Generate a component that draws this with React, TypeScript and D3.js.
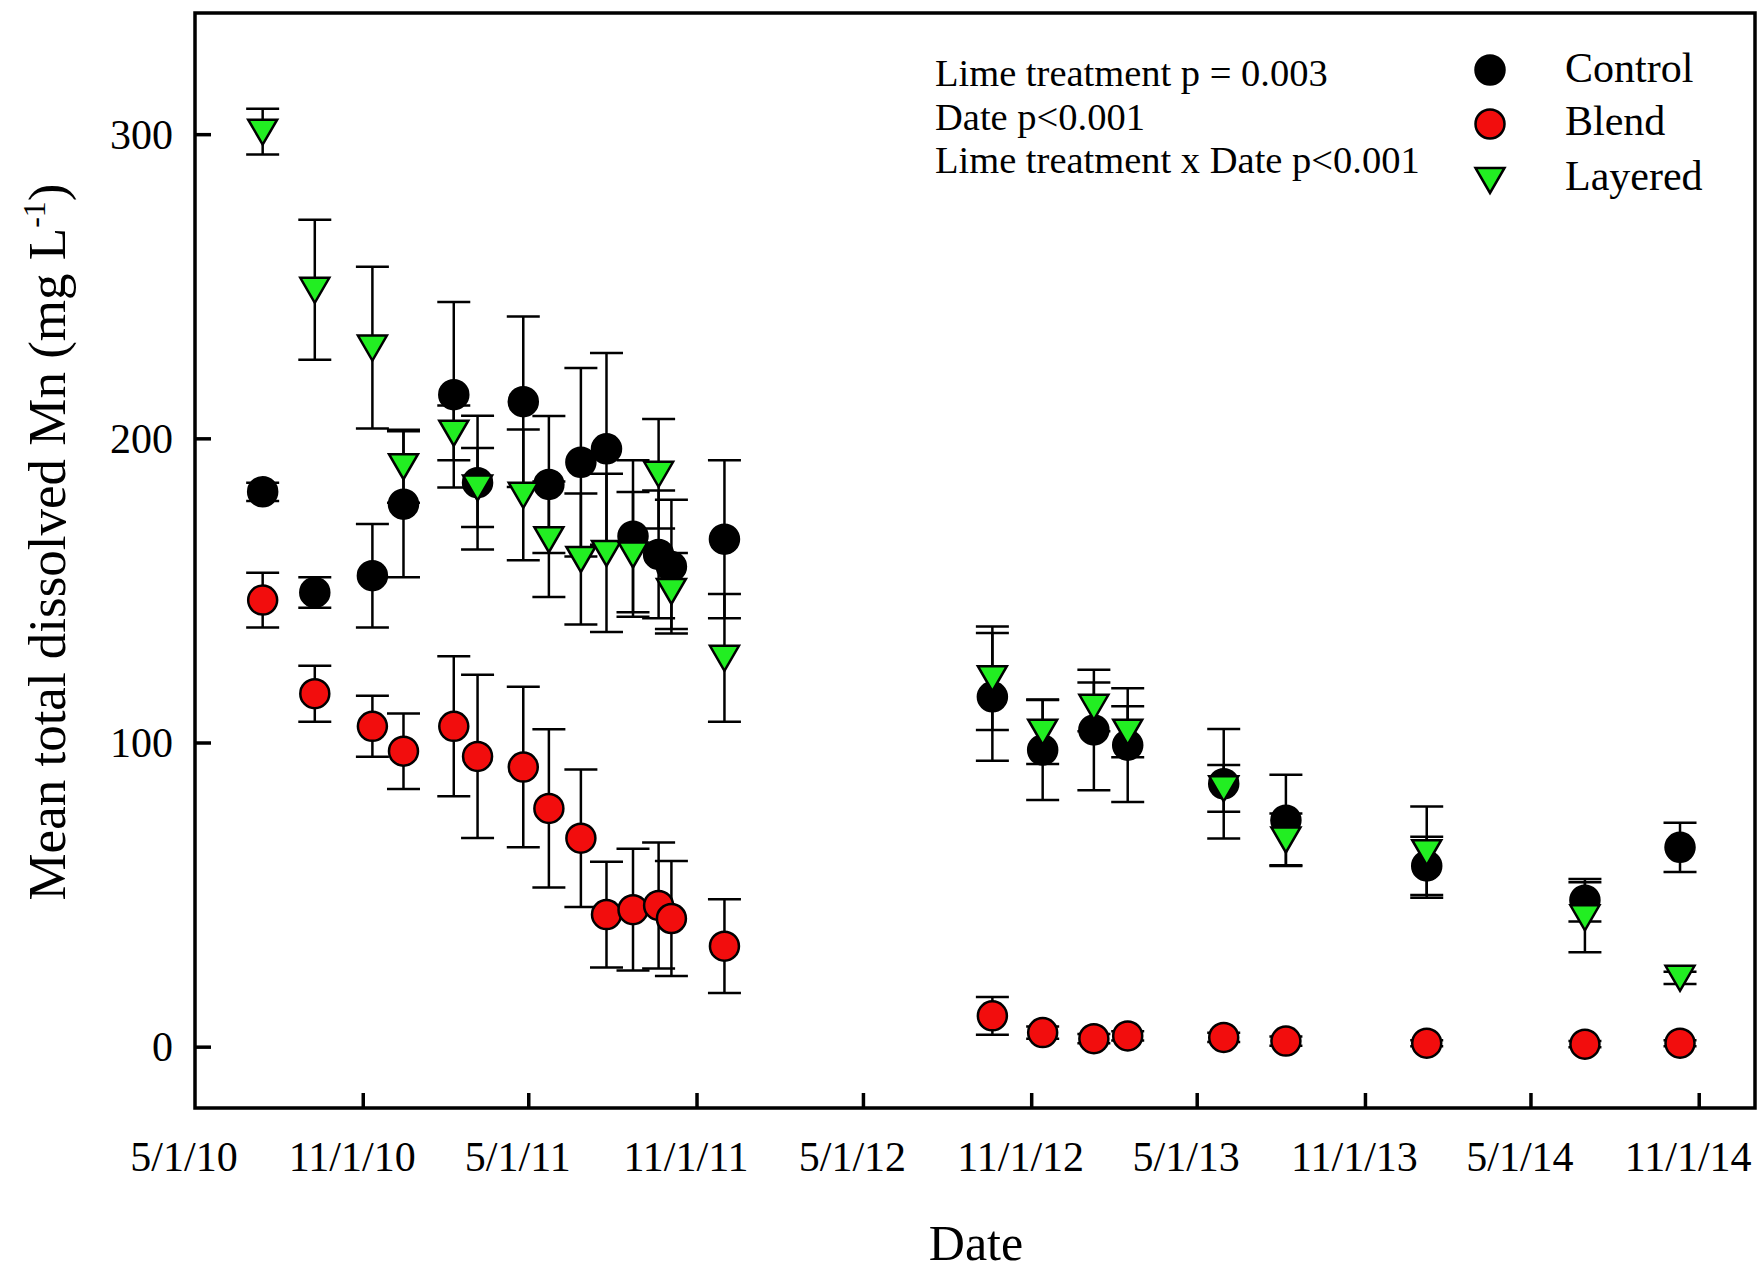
import React from 'react';
import * as d3 from 'd3';

// sampling dates
const dates = [
  '2010-07-14', '2010-09-09', '2010-11-11', '2010-12-15', '2011-02-08', '2011-03-06',
  '2011-04-25', '2011-05-23', '2011-06-27', '2011-07-25', '2011-08-23', '2011-09-20',
  '2011-10-04', '2011-12-01', '2012-09-19', '2012-11-13', '2013-01-08', '2013-02-14',
  '2013-05-30', '2013-08-06', '2014-01-07', '2014-06-29', '2014-10-11',
];

const control = [182.6, 149.5, 155, 178.5, 214.5, 185.6, 212.2, 185, 192.3, 196.7, 168, 162, 158, 167, 115.2, 97.7, 104.3, 99.3, 86.6, 74.6, 59.6, 48.3, 65.7];
const controlErr = [3, 5, 17, 24, 30.5, 22, 28, 22.5, 31, 31.5, 25, 21, 22, 26, 21, 16.4, 19.8, 18.7, 18, 15, 9.6, 7, 8.1];

const blend = [147, 116.2, 105.5, 97.3, 105.5, 95.6, 92.1, 78.5, 68.7, 43.6, 45.2, 46.6, 42.3, 33.2, 10.3, 4.8, 2.8, 3.7, 3.2, 2.0, 1.3, 1.0, 1.3];
const blendErr = [9, 9.2, 10, 12.4, 23, 26.8, 26.4, 26, 22.6, 17.4, 20, 20.7, 18.9, 15.4, 6.2, 2, 1.5, 1.5, 1.5, 1.5, 1, 1, 1];

const layered = [301, 249, 230, 191, 202, 184, 181.6, 167, 160.5, 162.5, 162, 188.5, 150, 128, 121.3, 103.7, 111.9, 103.7, 85.1, 68.3, 64.1, 42.7, 22.8];
const layeredErr = [7.5, 23, 26.6, 12, 9, 13, 21.5, 19, 21.5, 26, 20.5, 18, 12.5, 21, 17, 10.6, 8, 8.4, 7.7, 8.5, 15, 11.5, 2];

const xTickDates = ['2010-05-01', '2010-11-01', '2011-05-01', '2011-11-01', '2012-05-01', '2012-11-01', '2013-05-01', '2013-11-01', '2014-05-01', '2014-11-01'];
const xTickLabels = ['5/1/10', '11/1/10', '5/1/11', '11/1/11', '5/1/12', '11/1/12', '5/1/13', '11/1/13', '5/1/14', '11/1/14'];
const yTicks = [0, 100, 200, 300];

const statLines = ['Lime treatment p = 0.003', 'Date p<0.001', 'Lime treatment x Date p<0.001'];
const legendNames = ['Control', 'Blend', 'Layered'];

const W = 1762;
const H = 1272;
const left = 195, top = 13, right = 1755, bottom = 1108;
const FONT = "'Liberation Serif', 'Times New Roman', serif";

const parse = d3.timeParse('%Y-%m-%d');

const x = d3.scaleTime()
  .domain([parse('2010-05-01')!, parse('2015-01-01')!])
  .range([left, right]);

const y = d3.scaleLinear()
  .domain([-20, 340])
  .range([bottom, top]);

const RED = '#f20d0d';
const GREEN = '#22ee22';

const series = [
  { name: 'Control', values: control, err: controlErr, shape: 'circle', fill: '#000' },
  { name: 'Blend', values: blend, err: blendErr, shape: 'circle', fill: RED },
  { name: 'Layered', values: layered, err: layeredErr, shape: 'triangle', fill: GREEN },
];

const CAP = 16.5;
const R = 14.5;
const triPath = 'M-14.5,-12 L14.5,-12 L0,13 Z';

function Marker({ shape, fill, cx, cy }: { shape: string; fill: string; cx: number; cy: number }) {
  if (shape === 'triangle') {
    return <path d={triPath} transform={`translate(${cx},${cy})`} fill={fill} stroke="#000" strokeWidth={2.5} strokeLinejoin="miter" />;
  }
  return <circle cx={cx} cy={cy} r={R} fill={fill} stroke="#000" strokeWidth={2.5} />;
}

export default function App() {
  const dts = dates.map((d) => parse(d)!);

  return (
    <div style={{ position: 'absolute', left: 0, top: 0 }}>
      <svg width={W} height={H} style={{ display: 'block', background: '#fff' }} fontFamily={FONT}>
        <rect x={0} y={0} width={W} height={H} fill="#fff" />

        {/* data */}
        {series.map((s) => (
          <g key={s.name}>
            {s.values.map((v, i) => {
              const cx = x(dts[i]);
              const y1 = y(v + s.err[i]);
              const y2 = y(v - s.err[i]);
              return (
                <g key={i} stroke="#000" strokeWidth={2.5}>
                  <line x1={cx} x2={cx} y1={y1} y2={y2} />
                  <line x1={cx - CAP} x2={cx + CAP} y1={y1} y2={y1} />
                  <line x1={cx - CAP} x2={cx + CAP} y1={y2} y2={y2} />
                </g>
              );
            })}
            {s.values.map((v, i) => (
              <Marker key={'m' + i} shape={s.shape} fill={s.fill} cx={x(dts[i])} cy={y(v)} />
            ))}
          </g>
        ))}

        {/* frame */}
        <rect x={left} y={top} width={right - left} height={bottom - top} fill="none" stroke="#000" strokeWidth={3.5} />

        {/* y axis */}
        {yTicks.map((t) => (
          <g key={t}>
            <line x1={left} x2={left + 16} y1={y(t)} y2={y(t)} stroke="#000" strokeWidth={3.5} />
            <text x={173} y={y(t) + 14} fontSize={42} textAnchor="end" fill="#000">{t}</text>
          </g>
        ))}

        {/* x axis */}
        {xTickDates.map((d, i) => {
          const tx = x(parse(d)!);
          return (
            <g key={d}>
              {i > 0 && <line x1={tx} x2={tx} y1={bottom} y2={bottom - 15} stroke="#000" strokeWidth={3.5} />}
              <text x={tx - 11} y={1171} fontSize={42} textAnchor="middle" fill="#000">{xTickLabels[i]}</text>
            </g>
          );
        })}

        {/* axis titles */}
        <text x={976} y={1260} fontSize={50} textAnchor="middle" fill="#000">Date</text>
        <text transform="translate(65,542) rotate(-90)" fontSize={53} textAnchor="middle" fill="#000">
          Mean total dissolved Mn (mg L<tspan dy={-20} fontSize={32}>-1</tspan><tspan dy={20}>)</tspan>
        </text>

        {/* statistics */}
        {statLines.map((s, i) => (
          <text key={s} x={935} y={86 + i * 43.5} fontSize={38.5} fill="#000">{s}</text>
        ))}

        {/* legend */}
        {legendNames.map((n, i) => {
          const s = series[i];
          const cy = [70, 124, 180][i];
          return (
            <g key={n}>
              <Marker shape={s.shape} fill={s.fill} cx={1490} cy={cy} />
              <text x={1565} y={[82, 135, 190][i]} fontSize={42} fill="#000">{n}</text>
            </g>
          );
        })}
      </svg>
    </div>
  );
}
